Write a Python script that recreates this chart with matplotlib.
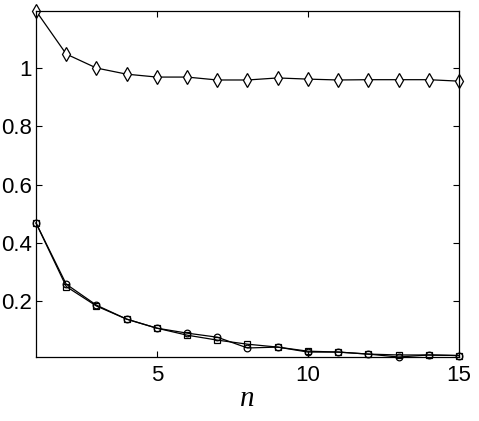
import numpy as np
import matplotlib.pyplot as plt

n = np.arange(1, 16)

# diamond series (upper curve)
diamonds = [1.196, 1.048, 1.000, 0.979, 0.969, 0.969, 0.959, 0.959,
            0.966, 0.962, 0.959, 0.960, 0.960, 0.960, 0.955]

# circle series (lower curve)
circles = [0.468, 0.258, 0.186, 0.138, 0.107, 0.090, 0.076, 0.039,
           0.042, 0.025, 0.025, 0.018, 0.008, 0.015, 0.013]

# square series (lower curve)
squares = [0.468, 0.250, 0.183, 0.138, 0.107, 0.083, 0.066, 0.052,
           0.042, 0.028, 0.025, 0.018, 0.015, 0.015, 0.013]

plt.rcParams['font.family'] = ['Liberation Sans', 'DejaVu Sans']

fig = plt.figure(figsize=(4.79, 4.21), dpi=100)
ax = fig.add_axes([0.0752, 0.152, 0.883, 0.822])

lw = 0.9
ax.plot(n, diamonds, color='black', linewidth=lw, marker='d', markersize=6.8,
        markerfacecolor='white', markeredgecolor='black', markeredgewidth=0.9, clip_on=False)
ax.plot(n, squares, color='black', linewidth=lw, marker='s', markersize=4,
        markerfacecolor='none', markeredgecolor='black', markeredgewidth=0.9, clip_on=False)
ax.plot(n, circles, color='black', linewidth=lw, marker='o', markersize=4.8,
        markerfacecolor='none', markeredgecolor='black', markeredgewidth=0.9, clip_on=False)

ax.set_xlim(1, 15)
ax.set_ylim(0.008, 1.196)
ax.set_xticks([5, 10, 15])
ax.set_yticks([0.2, 0.4, 0.6, 0.8, 1.0])
ax.set_yticklabels(['0.2', '0.4', '0.6', '0.8', '1'])
ax.tick_params(direction='in', top=True, right=True, length=4, width=0.8,
               labelsize=16)
ax.tick_params(axis='y', pad=3)
ax.tick_params(axis='x', pad=6)
for s in ax.spines.values():
    s.set_linewidth(0.9)

ax.set_xlabel('n', family='Liberation Serif', style='italic', fontsize=21, labelpad=0)

fig.savefig('out.png', dpi=100)
